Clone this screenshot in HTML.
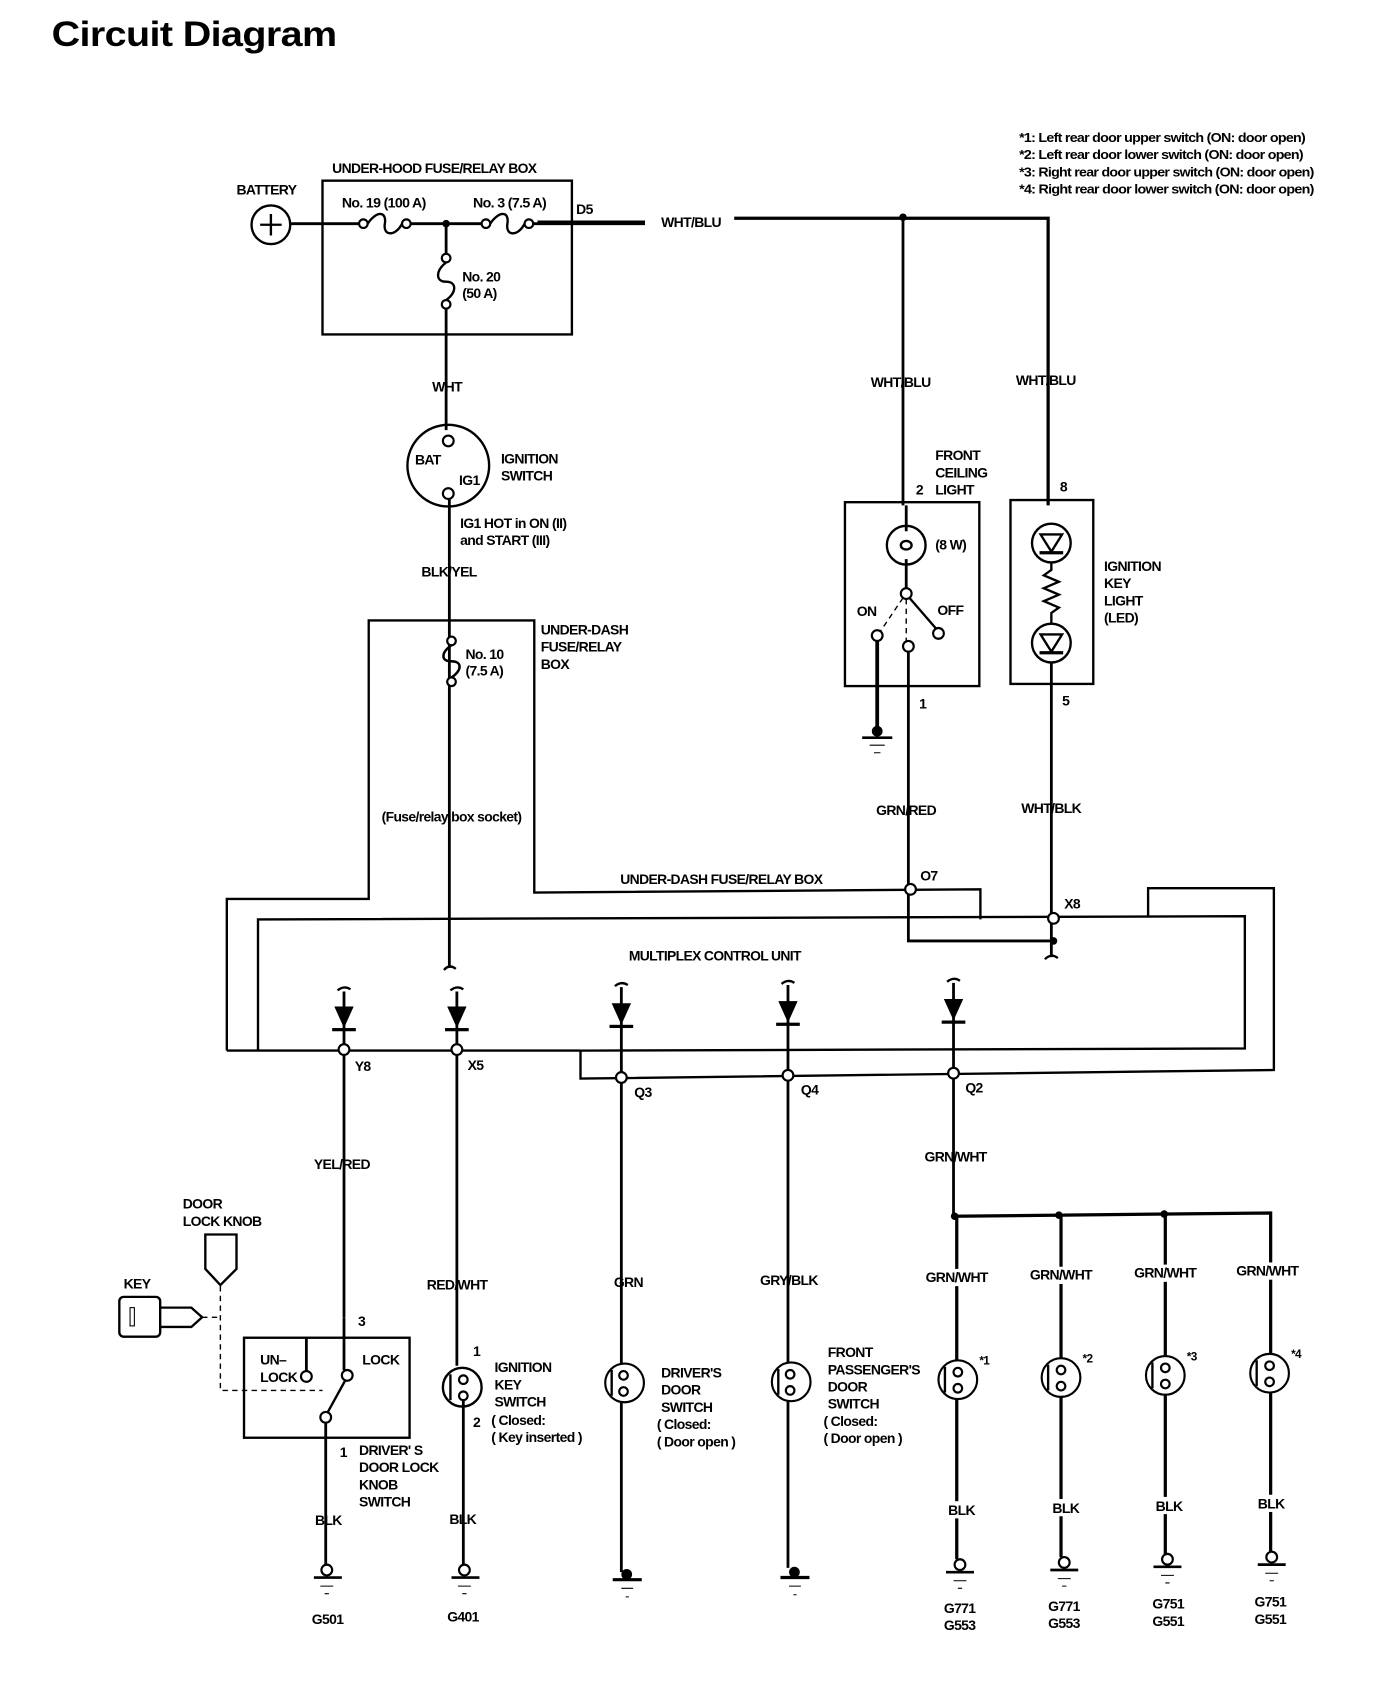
<!DOCTYPE html>
<html><head><meta charset="utf-8"><style>
html,body{margin:0;padding:0;background:#fff;}
svg{display:block}
text{font-family:"Liberation Sans",sans-serif;font-weight:bold;font-size:13px;fill:#000;letter-spacing:-0.6px}
.w{stroke:#000;stroke-width:2.6;fill:none}
.b{stroke:#000;stroke-width:2.2;fill:none}
.o{stroke:#000;stroke-width:2;fill:#fff}
.d{stroke:#000;stroke-width:1.3;fill:none;stroke-dasharray:5,4}
</style></head><body>
<svg width="1376" height="1684" viewBox="0 0 1280 1566" preserveAspectRatio="none" xmlns="http://www.w3.org/2000/svg">
<text x="48" y="43" textLength="265" lengthAdjust="spacingAndGlyphs" style="font-size:33px;letter-spacing:-0.5px">Circuit Diagram</text>

<!-- notes -->
<text x="948" y="132" textLength="266" lengthAdjust="spacingAndGlyphs" style="font-size:12px">*1: Left rear door upper switch (ON: door open)</text>
<text x="948" y="148" textLength="264" lengthAdjust="spacingAndGlyphs" style="font-size:12px">*2: Left rear door lower switch (ON: door open)</text>
<text x="948" y="164" textLength="274" lengthAdjust="spacingAndGlyphs" style="font-size:12px">*3: Right rear door upper switch (ON: door open)</text>
<text x="948" y="180" textLength="274" lengthAdjust="spacingAndGlyphs" style="font-size:12px">*4: Right rear door lower switch (ON: door open)</text>

<!-- under-hood box -->
<text x="309" y="161" textLength="190" lengthAdjust="spacingAndGlyphs">UNDER-HOOD FUSE/RELAY BOX</text>
<rect x="300" y="168" width="232" height="143" class="b"/>
<text x="220" y="181">BATTERY</text>
<circle cx="252" cy="209" r="18" class="b"/>
<path d="M242 209H262M252 199V219" class="b"/>
<text x="318" y="193" textLength="78" lengthAdjust="spacingAndGlyphs">No. 19 (100 A)</text>
<text x="440" y="193" textLength="68" lengthAdjust="spacingAndGlyphs">No. 3 (7.5 A)</text>
<path d="M270 208H334M382 208H448M496 208H600" class="w"/>
<path d="M500 207H600" stroke="#000" stroke-width="4"/>
<circle cx="338" cy="208" r="4" class="o"/><circle cx="378" cy="208" r="4" class="o"/>
<path d="M342 208C350 196 360 196 358 208S368 220 374 208" class="b"/>
<circle cx="452" cy="208" r="4" class="o"/><circle cx="492" cy="208" r="4" class="o"/>
<path d="M456 208C464 196 474 196 472 208S482 220 488 208" class="b"/>
<circle cx="415" cy="208" r="3.5" fill="#000"/>
<text x="536" y="199">D5</text>
<text x="615" y="211">WHT/BLU</text>
<path d="M683 203H975V470" stroke="#000" stroke-width="3" fill="none"/>
<path d="M840 203V470" class="w"/>
<circle cx="840" cy="202" r="3.5" fill="#000"/>
<!-- No 20 -->
<path d="M415 208V236M415 287V400" class="w"/>
<circle cx="415" cy="240" r="4" class="o"/><circle cx="415" cy="283" r="4" class="o"/>
<path d="M415 244C405 252 405 262 415 262S425 272 415 279" class="b"/>
<text x="430" y="262">No. 20</text>
<text x="430" y="277">(50 A)</text>
<text x="402" y="364">WHT</text>
<!-- ignition switch -->
<circle cx="417" cy="433" r="38" class="b"/>
<circle cx="417" cy="410" r="5" class="o"/><circle cx="417" cy="459" r="5" class="o"/>
<text x="386" y="432">BAT</text><text x="427" y="451">IG1</text>
<text x="466" y="431">IGNITION</text><text x="466" y="447">SWITCH</text>
<path d="M418 464V900" class="w"/>
<text x="428" y="491">IG1 HOT in ON (II)</text>
<text x="428" y="507">and START (III)</text>
<text x="392" y="536">BLK/YEL</text>
<path d="M413 902Q418 896 424 901" class="b"/>
<!-- No 10 fuse -->
<circle cx="420" cy="596" r="4" class="o"/><circle cx="420" cy="634" r="4" class="o"/>
<path d="M420 600C410 607 410 615 420 615S430 623 420 630" class="b" stroke="#fff" stroke-width="5"/>
<path d="M420 600C410 607 410 615 420 615S430 623 420 630" class="b"/>
<text x="433" y="613">No. 10</text><text x="433" y="628">(7.5 A)</text>
<text x="503" y="590">UNDER-DASH</text><text x="503" y="606">FUSE/RELAY</text><text x="503" y="622">BOX</text>
<text x="355" y="764" textLength="130" lengthAdjust="spacingAndGlyphs">(Fuse/relay box socket)</text>
<text x="577" y="822" textLength="188" lengthAdjust="spacingAndGlyphs">UNDER-DASH FUSE/RELAY BOX</text>
<text x="585" y="893" textLength="160" lengthAdjust="spacingAndGlyphs">MULTIPLEX CONTROL UNIT</text>

<!-- outlines -->
<path d="M211 977V836H343V577H497V830L912 827V855" class="b"/>
<path d="M240 977V855L1158 852V975L540 977V1003L1185 995V826H1068V853" class="b"/>
<path d="M211 977H540" class="b"/>

<!-- ceiling light -->
<text x="870" y="428">FRONT</text><text x="870" y="444">CEILING</text><text x="870" y="460">LIGHT</text>
<text x="852" y="460">2</text>
<text x="810" y="360">WHT/BLU</text>
<rect x="786" y="467" width="125" height="171" class="b"/>
<circle cx="843" cy="507" r="18" class="b"/>
<path d="M843 470V494M843 520V547" class="w"/>
<ellipse cx="843" cy="507" rx="5" ry="4" class="b"/>
<text x="870" y="511">(8 W)</text>
<circle cx="843" cy="552" r="5" class="o"/>
<path d="M846 556L872 586" class="b"/>
<path d="M840 556L819 587M843 557V596" class="d"/>
<circle cx="816" cy="591" r="5" class="o"/><circle cx="845" cy="601" r="5" class="o"/><circle cx="873" cy="589" r="5" class="o"/>
<text x="797" y="573">ON</text><text x="872" y="572">OFF</text>
<path d="M816 596V678" stroke="#000" stroke-width="3.5"/>
<circle cx="816" cy="680" r="5" fill="#000"/>
<path d="M802 686H830" stroke="#000" stroke-width="2.5"/>
<path d="M809 693H823M813 700H819" stroke="#000" stroke-width="1"/>
<path d="M845 606V875H980" class="w"/>
<circle cx="980" cy="875" r="3.5" fill="#000"/>
<text x="855" y="659">1</text>
<text x="815" y="758">GRN/RED</text>
<circle cx="847" cy="827" r="5" class="o"/>
<text x="856" y="819">O7</text>

<!-- key light -->
<text x="945" y="358">WHT/BLU</text>
<text x="986" y="457">8</text>
<rect x="940" y="465" width="77" height="171" class="b"/>
<circle cx="978" cy="505" r="18" class="b"/>
<path d="M968 497H988L978 513Z" class="b"/><path d="M967 514H989" stroke="#000" stroke-width="3"/>
<path d="M978 523V530L971 535L985 541L971 547L985 553L971 559L985 565L978 570V580" class="b"/>
<circle cx="978" cy="598" r="18" class="b"/>
<path d="M968 590H988L978 606Z" class="b"/><path d="M967 607H989" stroke="#000" stroke-width="3"/>
<path d="M978 616V890" class="w"/>
<path d="M972 892Q978 886 984 891" class="b"/>
<text x="1027" y="531">IGNITION</text><text x="1027" y="547">KEY</text><text x="1027" y="563">LIGHT</text><text x="1027" y="579">(LED)</text>
<text x="988" y="656">5</text>
<text x="950" y="756">WHT/BLK</text>
<circle cx="980" cy="854" r="5" class="o"/>
<text x="990" y="845">X8</text>

<!-- diodes -->
<g class="w">
<path d="M320 922V1225"/><path d="M425 922V1270"/><path d="M578 918V1462"/><path d="M733 916V1458"/><path d="M887 914V1130"/>
</g>
<g fill="#000">
<path d="M311 936H329L320 956Z"/><rect x="309" y="956" width="22" height="3"/>
<path d="M416 936H434L425 956Z"/><rect x="414" y="956" width="22" height="3"/>
<path d="M569 933H587L578 953Z"/><rect x="567" y="953" width="22" height="3"/>
<path d="M724 931H742L733 951Z"/><rect x="722" y="951" width="22" height="3"/>
<path d="M878 929H896L887 949Z"/><rect x="876" y="949" width="22" height="3"/>
</g>
<g class="b">
<path d="M314 921Q320 916 326 920"/><path d="M419 921Q425 916 431 920"/><path d="M572 917Q578 912 584 916"/><path d="M727 915Q733 910 739 914"/><path d="M881 913Q887 908 893 912"/>
</g>
<circle cx="320" cy="976" r="5" class="o"/><text x="330" y="996">Y8</text>
<circle cx="425" cy="976" r="5" class="o"/><text x="435" y="995">X5</text>
<circle cx="578" cy="1002" r="5" class="o"/><text x="590" y="1020">Q3</text>
<circle cx="733" cy="1000" r="5" class="o"/><text x="745" y="1018">Q4</text>
<circle cx="887" cy="998" r="5" class="o"/><text x="898" y="1016">Q2</text>

<!-- door lock knob switch -->
<text x="292" y="1087">YEL/RED</text>
<text x="170" y="1124">DOOR</text><text x="170" y="1140">LOCK KNOB</text>
<path d="M191 1148H220V1180L205 1195L191 1180Z" class="b"/>
<text x="115" y="1198">KEY</text>
<rect x="111" y="1206" width="38" height="37" rx="4" class="b"/>
<rect x="121" y="1216" width="4" height="17" stroke="#000" stroke-width="1" fill="none"/>
<path d="M149 1216H178L188 1225L178 1234H149" class="b"/>
<path d="M188 1225H205M205 1196V1293H300" class="d"/>
<rect x="227" y="1244" width="154" height="93" class="b"/>
<path d="M285 1244V1276" class="w"/>
<circle cx="285" cy="1280" r="5" class="o"/>
<circle cx="323" cy="1279" r="5" class="o"/>
<path d="M320 1225V1274" class="w"/>
<path d="M321 1284L305 1313" class="b"/>
<circle cx="303" cy="1318" r="5" class="o"/>
<path d="M303 1323V1455" class="w"/>
<text x="333" y="1233">3</text>
<text x="242" y="1269">UN–</text><text x="242" y="1285">LOCK</text>
<text x="337" y="1269">LOCK</text>
<text x="316" y="1355">1</text>
<text x="334" y="1353">DRIVER' S</text><text x="334" y="1369">DOOR LOCK</text><text x="334" y="1385">KNOB</text><text x="334" y="1401">SWITCH</text>
<text x="293" y="1418">BLK</text>
<circle cx="304" cy="1460" r="5" class="o"/>
<path d="M292 1467H318" stroke="#000" stroke-width="2.5"/><path d="M298 1475H310M302 1482H306" stroke="#000" stroke-width="1"/>
<text x="290" y="1510">G501</text>

<!-- ignition key switch -->
<text x="397" y="1199">RED/WHT</text>
<text x="440" y="1261">1</text>
<circle cx="430" cy="1290" r="18" class="b"/>
<path d="M419 1278V1302" class="b"/>
<circle cx="431" cy="1283" r="4" class="o"/><circle cx="431" cy="1298" r="4" class="o"/>
<path d="M431 1302V1455" class="w"/>
<text x="460" y="1276">IGNITION</text><text x="460" y="1292">KEY</text><text x="460" y="1308">SWITCH</text>
<text x="440" y="1327">2</text>
<text x="457" y="1325">( Closed:</text><text x="457" y="1341">( Key inserted )</text>
<text x="418" y="1417">BLK</text>
<circle cx="432" cy="1460" r="5" class="o"/>
<path d="M420 1467H446" stroke="#000" stroke-width="2.5"/><path d="M426 1475H438M430 1482H434" stroke="#000" stroke-width="1"/>
<text x="416" y="1508">G401</text>

<!-- driver's door switch -->
<text x="571" y="1197">GRN</text>
<circle cx="581" cy="1286" r="18" class="o"/>
<path d="M569 1274V1298" class="b"/>
<circle cx="580" cy="1279" r="4" class="o"/><circle cx="580" cy="1294" r="4" class="o"/>
<text x="615" y="1281">DRIVER'S</text><text x="615" y="1297">DOOR</text><text x="615" y="1313">SWITCH</text>
<text x="611" y="1329">( Closed:</text><text x="611" y="1345">( Door open )</text>
<circle cx="583" cy="1464" r="5" fill="#000"/>
<path d="M570 1469H597" stroke="#000" stroke-width="3"/><path d="M578 1477H589M582 1485H585" stroke="#000" stroke-width="1"/>

<!-- passenger door switch -->
<text x="707" y="1195">GRY/BLK</text>
<circle cx="736" cy="1285" r="18" class="o"/>
<path d="M724 1273V1297" class="b"/>
<circle cx="735" cy="1278" r="4" class="o"/><circle cx="735" cy="1293" r="4" class="o"/>
<text x="770" y="1262">FRONT</text><text x="770" y="1278">PASSENGER'S</text><text x="770" y="1294">DOOR</text><text x="770" y="1310">SWITCH</text>
<text x="766" y="1326">( Closed:</text><text x="766" y="1342">( Door open )</text>
<circle cx="739" cy="1462" r="5" fill="#000"/>
<path d="M726 1467H753" stroke="#000" stroke-width="3"/><path d="M734 1475H745M738 1483H741" stroke="#000" stroke-width="1"/>

<!-- rear door switches -->
<text x="860" y="1080">GRN/WHT</text>
<path d="M887 1131L1182 1128V1452M890 1131V1450M987 1130V1448M1084 1129V1446" stroke="#000" stroke-width="3" fill="none"/>
<circle cx="888" cy="1131" r="3.5" fill="#000"/><circle cx="985" cy="1130" r="3.5" fill="#000"/><circle cx="1083" cy="1129" r="3.5" fill="#000"/>
<g>
<rect x="858" y="1180" width="64" height="16" fill="#fff"/><text x="861" y="1192">GRN/WHT</text>
<rect x="955" y="1178" width="64" height="16" fill="#fff"/><text x="958" y="1190">GRN/WHT</text>
<rect x="1052" y="1176" width="64" height="16" fill="#fff"/><text x="1055" y="1188">GRN/WHT</text>
<rect x="1147" y="1174" width="64" height="16" fill="#fff"/><text x="1150" y="1186">GRN/WHT</text>
</g>
<g>
<circle cx="891" cy="1283" r="18" class="o"/><path d="M879 1271V1295" class="b"/><circle cx="891" cy="1276" r="4" class="o"/><circle cx="891" cy="1291" r="4" class="o"/>
<circle cx="987" cy="1281" r="18" class="o"/><path d="M975 1269V1293" class="b"/><circle cx="987" cy="1274" r="4" class="o"/><circle cx="987" cy="1289" r="4" class="o"/>
<circle cx="1084" cy="1279" r="18" class="o"/><path d="M1072 1267V1291" class="b"/><circle cx="1084" cy="1272" r="4" class="o"/><circle cx="1084" cy="1287" r="4" class="o"/>
<circle cx="1181" cy="1277" r="18" class="o"/><path d="M1169 1265V1289" class="b"/><circle cx="1181" cy="1270" r="4" class="o"/><circle cx="1181" cy="1285" r="4" class="o"/>
</g>
<text x="911" y="1269" style="font-size:11px">*1</text><text x="1007" y="1267" style="font-size:11px">*2</text><text x="1104" y="1265" style="font-size:11px">*3</text><text x="1201" y="1263" style="font-size:11px">*4</text>
<rect x="878" y="1396" width="30" height="16" fill="#fff"/><text x="882" y="1409">BLK</text>
<rect x="975" y="1394" width="30" height="16" fill="#fff"/><text x="979" y="1407">BLK</text>
<rect x="1072" y="1392" width="30" height="16" fill="#fff"/><text x="1075" y="1405">BLK</text>
<rect x="1167" y="1390" width="30" height="16" fill="#fff"/><text x="1170" y="1403">BLK</text>
<g>
<circle cx="893" cy="1455" r="5" class="o"/><path d="M880 1462H906" stroke="#000" stroke-width="2.5"/><path d="M887 1470H899M891 1477H895" stroke="#000" stroke-width="1"/>
<circle cx="990" cy="1453" r="5" class="o"/><path d="M977 1460H1003" stroke="#000" stroke-width="2.5"/><path d="M984 1468H996M988 1475H992" stroke="#000" stroke-width="1"/>
<circle cx="1086" cy="1450" r="5" class="o"/><path d="M1073 1457H1099" stroke="#000" stroke-width="2.5"/><path d="M1080 1465H1092M1084 1472H1088" stroke="#000" stroke-width="1"/>
<circle cx="1183" cy="1448" r="5" class="o"/><path d="M1170 1455H1196" stroke="#000" stroke-width="2.5"/><path d="M1177 1463H1189M1181 1470H1185" stroke="#000" stroke-width="1"/>
</g>
<text x="878" y="1500">G771</text><text x="878" y="1516">G553</text>
<text x="975" y="1498">G771</text><text x="975" y="1514">G553</text>
<text x="1072" y="1496">G751</text><text x="1072" y="1512">G551</text>
<text x="1167" y="1494">G751</text><text x="1167" y="1510">G551</text>
</svg>
</body></html>
